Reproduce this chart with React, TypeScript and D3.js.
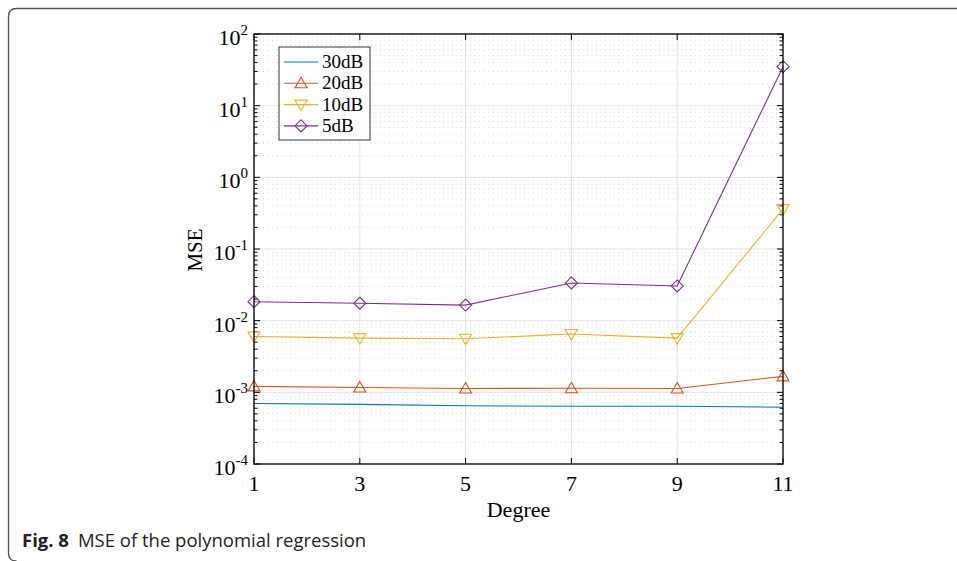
import React from "react";
import * as d3 from "d3";

const degrees = [1, 3, 5, 7, 9, 11];
const mse30 = [7.0e-4, 6.8e-4, 6.5e-4, 6.4e-4, 6.4e-4, 6.2e-4];
const mse20 = [1.21e-3, 1.17e-3, 1.13e-3, 1.14e-3, 1.13e-3, 1.67e-3];
const mse10 = [6.0e-3, 5.7e-3, 5.6e-3, 6.5e-3, 5.7e-3, 0.36];
const mse5 = [0.0184, 0.0175, 0.0165, 0.0336, 0.0305, 35];
const seriesNames = ["30dB", "20dB", "10dB", "5dB"];
const seriesColors = ["#0072BD", "#D95319", "#EDB120", "#7E2F8E"];
const seriesMarkers = ["none", "triangle", "triangleDown", "diamond"];
const yExponents = [2, 1, 0, -1, -2, -3, -4];
const captionBold = "Fig. 8";
const captionText = "MSE of the polynomial regression";

const W = 957;
const H = 561;
const L = 254, R = 783, T = 34, B = 464;
const serif = "'Liberation Serif', 'Times New Roman', serif";

function Marker({ kind, x, y, color }: { kind: string; x: number; y: number; color: string }) {
  const s = 6;
  if (kind === "triangle") {
    return <path d={`M${x},${y - s} L${x + s},${y + s * 0.75} L${x - s},${y + s * 0.75} Z`} fill="none" stroke={color} strokeWidth={1.1} />;
  }
  if (kind === "triangleDown") {
    return <path d={`M${x},${y + s} L${x + s},${y - s * 0.75} L${x - s},${y - s * 0.75} Z`} fill="none" stroke={color} strokeWidth={1.1} />;
  }
  if (kind === "diamond") {
    return <path d={`M${x},${y - s} L${x + s},${y} L${x},${y + s} L${x - s},${y} Z`} fill="none" stroke={color} strokeWidth={1.1} />;
  }
  return null;
}

export default function App() {
  const x = d3.scaleLinear().domain([1, 11]).range([L, R]);
  const y = d3.scaleLog().domain([1e-4, 1e2]).range([B, T]);
  const series = [mse30, mse20, mse10, mse5];
  const line = d3
    .line<number>()
    .x((_, i) => x(degrees[i]))
    .y((v) => y(v));

  const minor: number[] = [];
  for (let e = -4; e < 2; e++) {
    for (let m = 2; m <= 9; m++) minor.push(m * Math.pow(10, e));
  }

  return (
    <svg width={W} height={H} style={{ position: "absolute", left: 0, top: 0 }} xmlns="http://www.w3.org/2000/svg">
      <rect x={0} y={0} width={W} height={H} fill="#fff" />
      {/* outer figure frame */}
      <path d={`M${W + 5},8.5 L16.5,8.5 Q8.5,8.5 8.5,16.5 L8.5,553 Q8.5,561 16.5,561`} fill="none" stroke="#555" strokeWidth={1.3} />

      {/* minor grid */}
      {minor.map((v, i) => (
        <line key={"mg" + i} x1={L} x2={R} y1={y(v)} y2={y(v)} stroke="#cfcfcf" strokeWidth={0.8} strokeDasharray="1 3.5" />
      ))}
      {/* major grid */}
      {yExponents.map((e) => (
        <line key={"My" + e} x1={L} x2={R} y1={y(Math.pow(10, e))} y2={y(Math.pow(10, e))} stroke="#e3e3e3" strokeWidth={1} />
      ))}
      {degrees.map((d) => (
        <line key={"Mx" + d} x1={x(d)} x2={x(d)} y1={T} y2={B} stroke="#e3e3e3" strokeWidth={1} />
      ))}

      {/* ticks */}
      {degrees.map((d) => (
        <g key={"xt" + d}>
          <line x1={x(d)} x2={x(d)} y1={B} y2={B - 6} stroke="#000" strokeWidth={1} />
          <line x1={x(d)} x2={x(d)} y1={T} y2={T + 6} stroke="#000" strokeWidth={1} />
          <text x={x(d)} y={491} textAnchor="middle" fontFamily={serif} fontSize={22} fill="#000">
            {d}
          </text>
        </g>
      ))}
      {yExponents.map((e) => (
        <g key={"yt" + e}>
          <line x1={L} x2={L + 6} y1={y(Math.pow(10, e))} y2={y(Math.pow(10, e))} stroke="#000" strokeWidth={1} />
          <line x1={R} x2={R - 6} y1={y(Math.pow(10, e))} y2={y(Math.pow(10, e))} stroke="#000" strokeWidth={1} />
          <text x={248} y={y(Math.pow(10, e)) + 11} textAnchor="end" fontFamily={serif} fontSize={22} fill="#000">
            10
            <tspan fontSize={15} dy={-10}>
              {e}
            </tspan>
          </text>
        </g>
      ))}
      {minor.map((v, i) => (
        <g key={"mt" + i}>
          <line x1={L} x2={L + 3.5} y1={y(v)} y2={y(v)} stroke="#000" strokeWidth={1} />
          <line x1={R} x2={R - 3.5} y1={y(v)} y2={y(v)} stroke="#000" strokeWidth={1} />
        </g>
      ))}

      {/* data */}
      {series.map((s, k) => (
        <g key={"s" + k}>
          <path d={line(s) || ""} fill="none" stroke={seriesColors[k]} strokeWidth={1.1} />
          {s.map((v, i) => (
            <Marker key={i} kind={seriesMarkers[k]} x={x(degrees[i])} y={y(v)} color={seriesColors[k]} />
          ))}
        </g>
      ))}

      {/* axes box */}
      <rect x={L} y={T} width={R - L} height={B - T} fill="none" stroke="#000" strokeWidth={1.3} />

      {/* legend */}
      <rect x={279} y={47} width={91} height={93} fill="#fff" stroke="#333" strokeWidth={1} />
      {seriesNames.map((n, k) => {
        const ly = 62 + k * 21.3;
        return (
          <g key={"lg" + k}>
            <line x1={284} x2={318} y1={ly} y2={ly} stroke={seriesColors[k]} strokeWidth={1.1} />
            <Marker kind={seriesMarkers[k]} x={301} y={ly} color={seriesColors[k]} />
            <text x={322} y={ly + 6} fontFamily={serif} fontSize={19} fill="#000">
              {n}
            </text>
          </g>
        );
      })}

      {/* axis labels */}
      <text x={518.5} y={517} textAnchor="middle" fontFamily={serif} fontSize={22} fill="#000">
        Degree
      </text>
      <text transform="translate(202,250) rotate(-90)" textAnchor="middle" fontFamily={serif} fontSize={21} fill="#000">
        MSE
      </text>

      {/* caption */}
      <text x={22} y={547} fontFamily="'Open Sans', 'Noto Sans', sans-serif" fontSize={18.5} fill="#231f20">
        <tspan fontWeight="bold">{captionBold}</tspan>
        <tspan dx={9}>{captionText}</tspan>
      </text>
    </svg>
  );
}
